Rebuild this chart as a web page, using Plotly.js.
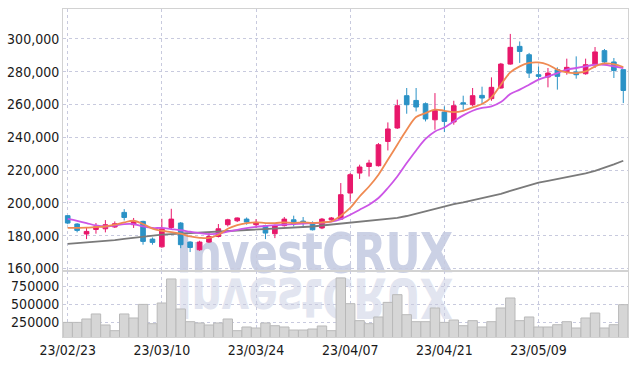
<!DOCTYPE html>
<html>
<head>
<meta charset="utf-8">
<script src="https://cdn.plot.ly/plotly-3.0.1.min.js"></script>
<style>
  html, body { margin:0; padding:0; background:#ffffff; }
  #wrap { position:relative; width:637px; height:366px; overflow:hidden; }
  #wm { position:absolute; left:0; top:0; width:637px; height:366px; pointer-events:none; }
  .wmt { position:absolute; left:176px; white-space:nowrap;
         font-family:'DejaVu Sans Condensed','Liberation Sans',sans-serif; font-weight:bold;
         font-size:56px; line-height:44px; height:44px; letter-spacing:-1px; }
  #wm1 { top:231px; color:rgb(203,209,229); transform-origin:0 0; transform:scaleX(0.86); }
  #wm2 { top:276px; color:rgb(226,229,240); transform-origin:0 50%; transform:scale(0.86,-1); }
  #chart { position:absolute; left:0; top:0; width:637px; height:366px; }
</style>
</head>
<body>
<div id="wrap">
  <div id="wm"><div class="wmt" id="wm1">InvestCRUX</div><div class="wmt" id="wm2">InvestCRUX</div></div>
  <div id="chart"></div>
</div>
<script>
const dates = ['23/02/23','23/02/24','23/02/27','23/02/28','23/03/02','23/03/03','23/03/06','23/03/07','23/03/08','23/03/09',
  '23/03/10','23/03/13','23/03/14','23/03/15','23/03/16','23/03/17','23/03/20','23/03/21','23/03/22','23/03/23',
  '23/03/24','23/03/27','23/03/28','23/03/29','23/03/30','23/03/31','23/04/03','23/04/04','23/04/05','23/04/06',
  '23/04/07','23/04/10','23/04/11','23/04/12','23/04/13','23/04/14','23/04/17','23/04/18','23/04/19','23/04/20',
  '23/04/21','23/04/24','23/04/25','23/04/26','23/04/27','23/04/28','23/05/02','23/05/03','23/05/04','23/05/08',
  '23/05/09','23/05/10','23/05/11','23/05/12','23/05/15','23/05/16','23/05/17','23/05/18','23/05/19','23/05/22'];

const openP = [192200,187100,181000,183800,184200,185300,194200,186700,188700,177900,
  173200,185000,187700,176100,171400,176100,179500,186700,189100,190100,
  186700,186100,181200,186100,189700,188900,187700,184700,189700,190100,
  206000,218200,222200,222700,237500,245700,265400,262500,260500,250700,
  255400,249400,261100,259900,265600,263600,270100,284700,295500,290400,
  278200,276800,281300,280200,279900,278800,284300,292900,286000,281300];
const highP = [192600,187600,184700,187700,189500,188700,196200,190800,189100,178900,
  190300,196400,188300,176600,176900,181600,187100,190300,191100,191100,
  190100,186700,186700,191400,192200,191400,188700,190800,191400,212100,
  218200,223300,226300,236500,249100,263000,270100,270100,261300,267000,
  258900,262300,265400,270100,270900,276600,285400,303100,298500,291500,
  283300,282300,282700,288000,289400,288000,295100,293900,288400,281300];
const lowP = [187000,182000,177900,181200,182000,184700,189300,184700,174500,174500,
  172600,183600,172400,170000,170800,175500,178900,185600,188300,186700,
  184700,177900,178500,185600,185600,185600,183200,184000,188700,189700,
  200900,214600,216100,222200,232000,245100,254400,255800,249700,244600,
  243200,247700,256900,258900,260300,262300,269700,284300,285400,276200,
  275200,270500,269100,278200,275800,278200,282300,285400,276200,260900];
const closeP = [187700,183200,182600,185400,186700,187300,191100,188700,176500,175900,
  184200,190100,174500,172800,176100,179500,184200,189700,190800,188300,
  188100,181600,186100,190100,187100,188100,183600,190100,190800,205000,
  217200,221900,224300,235500,245100,259300,259900,258500,251200,256400,
  249700,259300,260300,265400,264000,270500,284700,294900,292400,279200,
  277200,279200,277200,282700,278200,284300,292100,286000,280800,268600];
const ma5 = [184800,184800,184900,185300,185600,186700,188100,189100,187100,184300,
  183000,182200,181200,179500,178700,178600,180600,184200,186400,187600,
  188100,187700,187700,188100,187700,188100,187700,188100,188700,192200,
  196900,203900,210000,217200,226300,235500,244600,252400,254800,256900,
  256200,255400,256200,258300,260300,264400,272100,279600,283300,285400,
  285700,284300,281300,279600,279200,280200,283300,285100,284700,282900];
const ma10 = [190300,189100,187700,186200,185600,186200,187100,187100,185600,184700,
  184700,184000,183300,182400,181600,181000,181200,182400,183600,184600,
  185400,185900,186400,186700,187000,187300,187600,187900,188500,190100,
  192800,195800,198900,203000,209100,216100,224300,232000,239000,243600,
  246000,249700,253400,256200,257900,258900,261500,266400,269100,272100,
  275200,277200,279200,281300,282300,283300,284300,284300,283300,282300];
const ma60 = [175000,175400,175900,176300,176700,177300,178000,178700,179400,180000,
  180600,181000,181300,181600,181800,182000,182300,182600,182900,183200,
  183500,183800,184100,184400,184700,185000,185600,186200,186800,187400,
  188000,188500,189000,189600,190200,190800,192000,193500,195000,196600,
  198000,199200,200300,201500,202700,203900,205500,207300,209000,210800,
  212300,213400,214500,215600,216800,218000,219600,221400,223500,225700];
const volume = [250000,250000,297000,367000,214000,135000,367000,311000,500000,232000,
  519000,853000,436000,260000,242000,214000,242000,297000,135000,186000,
  172000,242000,204000,186000,144000,144000,158000,200000,135000,867000,
  510000,274000,232000,325000,528000,635000,357000,260000,260000,450000,
  250000,283000,204000,274000,186000,260000,450000,589000,274000,325000,
  186000,186000,218000,260000,172000,311000,380000,172000,218000,496000];
const tickDates = ['23/02/23','23/03/10','23/03/24','23/04/07','23/04/21','23/05/09'];

const UP = '#e8186b', DOWN = '#2b92c6';
const FONT = {family:"'DejaVu Sans Condensed',sans-serif", size:14, color:'#1a1a1a'};
const GRID = '#c8cade';
const LINE = '#d2d2d2';

const traces = [
  {type:'bar', x:dates, y:volume, xaxis:'x2', yaxis:'y2',
   marker:{color:'#d6d6d6', line:{color:'#b9b9b9', width:1}}, hoverinfo:'skip'},
  {type:'scatter', mode:'lines', x:dates, y:ma60, xaxis:'x', yaxis:'y',
   line:{color:'#7a7a7a', width:1.8}},
  {type:'scatter', mode:'lines', x:dates, y:ma10, xaxis:'x', yaxis:'y',
   line:{color:'#cc55e6', width:1.8, shape:'spline'}},
  {type:'scatter', mode:'lines', x:dates, y:ma5, xaxis:'x', yaxis:'y',
   line:{color:'#ef8a52', width:1.8, shape:'spline'}},
  {type:'candlestick', x:dates, open:openP, high:highP, low:lowP, close:closeP, xaxis:'x', yaxis:'y',
   increasing:{line:{color:UP, width:1}, fillcolor:UP},
   decreasing:{line:{color:DOWN, width:1}, fillcolor:DOWN},
   whiskerwidth:0}
];

const layout = {
  width:637, height:366,
  margin:{l:63, r:9, t:9, b:29},
  paper_bgcolor:'rgba(0,0,0,0)', plot_bgcolor:'rgba(0,0,0,0)',
  showlegend:false, bargap:0,
  font:FONT,
  xaxis:{anchor:'y', type:'category', range:[-0.5,59.5], tickvals:tickDates, showticklabels:false,
    showgrid:true, gridcolor:GRID, griddash:'dot', gridwidth:1,
    showline:true, linecolor:LINE, mirror:true, ticks:'', rangeslider:{visible:false}, fixedrange:true},
  xaxis2:{anchor:'y2', type:'category', matches:'x', range:[-0.5,59.5], tickvals:tickDates, ticktext:tickDates,
    showgrid:true, gridcolor:GRID, griddash:'dot', gridwidth:1,
    showline:true, linecolor:LINE, mirror:true, ticks:'', tickfont:FONT},
  yaxis:{domain:[0.2,1], range:[158200,318300], dtick:20000, tick0:0, tickformat:',d',
    showgrid:true, gridcolor:GRID, griddash:'dot', zeroline:false,
    showline:true, linecolor:LINE, mirror:true, ticks:'', tickfont:FONT},
  yaxis2:{domain:[0,0.2], range:[47000,958000], tickvals:[250000,500000,750000], tickformat:'d',
    showgrid:true, gridcolor:GRID, griddash:'dot', zeroline:false,
    showline:true, linecolor:LINE, mirror:true, ticks:'', tickfont:FONT}
};

Plotly.newPlot('chart', traces, layout, {displayModeBar:false, staticPlot:true});
</script>
</body>
</html>
